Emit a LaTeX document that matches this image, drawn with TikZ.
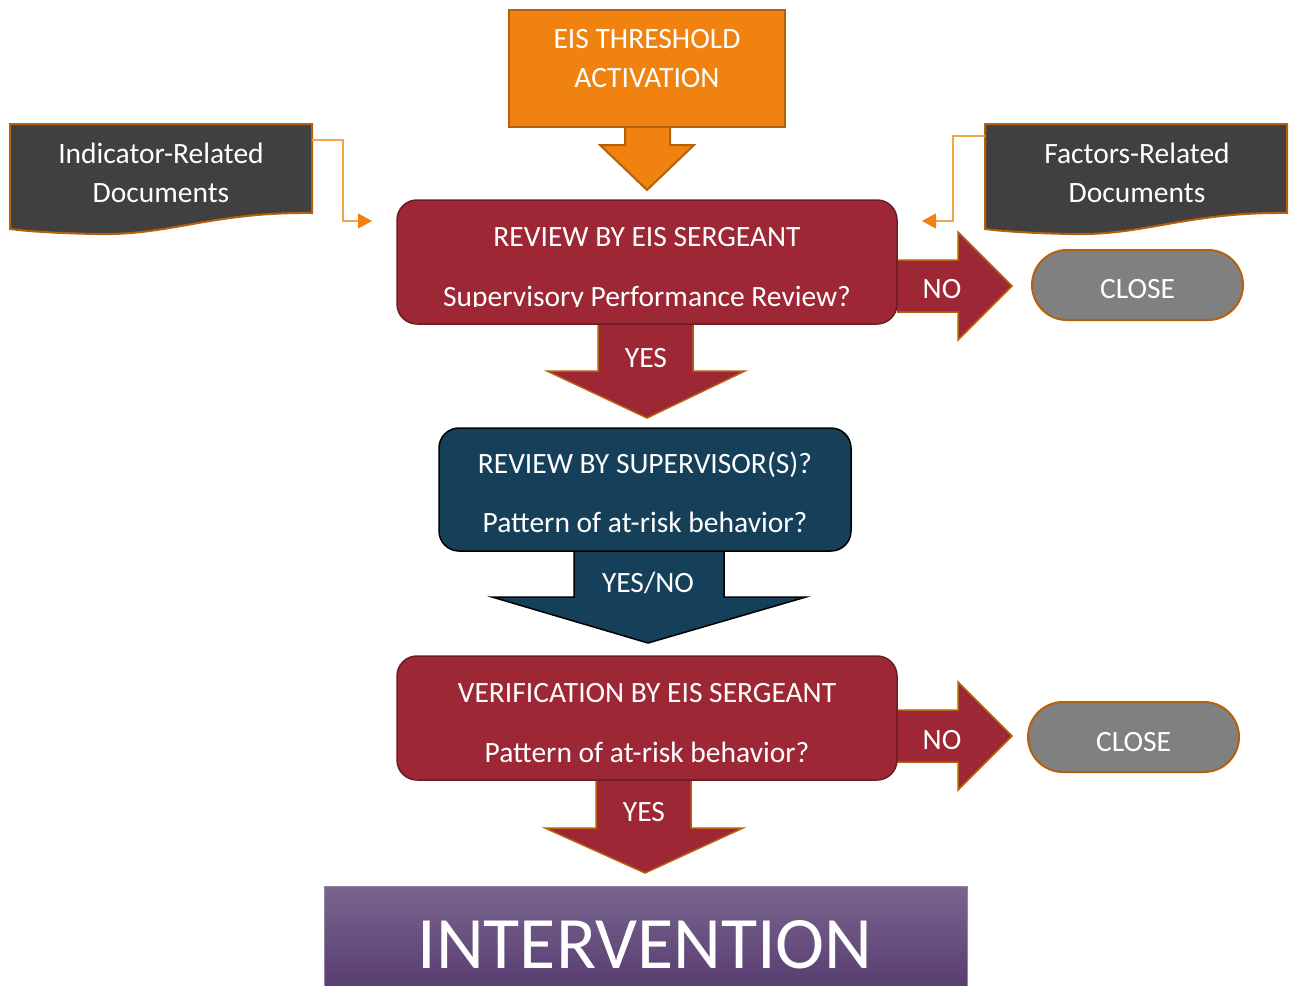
\documentclass[tikz,border=0pt]{standalone}
\usepackage{fontspec}
\setmainfont{Carlito}
\usetikzlibrary{arrows.meta}
\definecolor{org}{HTML}{F0820F}
\definecolor{orgdk}{HTML}{B5600C}
\definecolor{redb}{HTML}{9E2736}
\definecolor{reddk}{HTML}{6A1C26}
\definecolor{brn}{HTML}{B5600C}
\definecolor{blu}{HTML}{163F5A}
\definecolor{dkg}{HTML}{404040}
\definecolor{gry}{HTML}{808080}
\definecolor{lorg}{HTML}{F5A548}
\definecolor{purt}{HTML}{7A658F}
\definecolor{purb}{HTML}{553A6E}
\begin{document}
\begin{tikzpicture}[x=1pt,y=-1pt,
  txt/.style={text=white,font=\fontsize{29.5}{38}\selectfont,inner sep=0pt,anchor=base},
  redbox/.style={fill=redb,draw=reddk,line width=1.5pt,rounded corners=20pt,minimum width=500pt,minimum height=124pt,inner sep=0pt},
  bluebox/.style={fill=blu,draw=black,line width=1.5pt,rounded corners=20pt,minimum width=412pt,minimum height=123pt,inner sep=0pt},
  redarrow/.style={fill=redb,draw=brn,line width=1.5pt},
  bluearrow/.style={fill=blu,draw=black,line width=1.5pt},
  docshape/.style={fill=dkg,draw=brn,line width=2pt},
  closebox/.style={fill=gry,draw=brn,line width=2pt,rounded corners=35pt,minimum width=211pt,minimum height=70pt,inner sep=0pt},
  conn/.style={draw=lorg,line width=1.5pt,-{Triangle[length=14pt,width=15pt,color=org,fill=org]}}
]
\useasboundingbox (0,0) rectangle (1289,985);

% ---- top orange block arrow
\path[fill=org,draw=orgdk,line width=2pt] (625,127) -- (625,145) -- (600,145) -- (647,190) -- (694,145) -- (670,145) -- (670,127);
\node[fill=org,draw=orgdk,line width=2pt,minimum width=276pt,minimum height=117pt,inner sep=0pt] (eis) at (647,68.5) {};
\node[txt] (eisa) at (647,48) {EIS THRESHOLD};
\node[txt] (eisb) at (647,87) {ACTIVATION};

% ---- documents
\path[docshape] (10,124) -- (312,124) -- (312,213) .. controls (210,212) and (170,236) .. (95,234) .. controls (50,233) and (25,231) .. (10,229) -- cycle;
\node[txt] (ldoca) at (161,163) {Indicator-Related};
\node[txt] (ldocb) at (161,202) {Documents};
\path[docshape] (985,124) -- (1287,124) -- (1287,213) .. controls (1185,212) and (1145,236) .. (1070,234) .. controls (1025,233) and (1000,231) .. (985,229) -- cycle;
\node[txt] (rdoca) at (1137,163) {Factors-Related};
\node[txt] (rdocb) at (1137,202) {Documents};

% ---- NO arrows (behind boxes)
\path[redarrow] (897,260) -- (958,260) -- (958,232) -- (1012,286) -- (958,340) -- (958,312) -- (897,312);
\path[redarrow] (897,710) -- (958,710) -- (958,682) -- (1012,736) -- (958,790) -- (958,762) -- (897,762);
% ---- down arrows
\path[redarrow] (598,324) -- (598,371) -- (547,371) -- (647,418) -- (745,371) -- (693,371) -- (693,324);
\path[bluearrow] (574,551) -- (574,597) -- (492,597) -- (648,643) -- (806,597) -- (724,597) -- (724,551);
\path[redarrow] (596,780) -- (596,828) -- (545,828) -- (645,873) -- (743,828) -- (691,828) -- (691,780);

% ---- main boxes
\node[redbox] (rev1) at (647,262) {};
\node[txt] (rev1a) at (647,246) {REVIEW BY EIS SERGEANT};
\begin{scope}
\clip (397,200) rectangle (897,306);
\node[txt] (rev1b) at (647,306) {Supervisory Performance Review?};
\end{scope}
\node[bluebox] (sup) at (645,489.5) {};
\node[txt] (supa) at (645,473) {REVIEW BY SUPERVISOR(S)?};
\node[txt] (supb) at (645,532) {Pattern of at-risk behavior?};
\node[redbox] (ver) at (647,718) {};
\node[txt] (vera) at (647,702) {VERIFICATION BY EIS SERGEANT};
\node[txt] (verb) at (647,762) {Pattern of at-risk behavior?};

% ---- arrow labels
\node[txt] (yes1) at (646,367) {YES};
\node[txt] (yesno) at (648,592) {YES/NO};
\node[txt] (yes2) at (644,821) {YES};
\node[txt] (no1) at (942,298) {NO};
\node[txt] (no2) at (942,749) {NO};

% ---- close
\node[closebox] (close1) at (1137.5,285) {};
\node[txt] (close1t) at (1137.5,298) {CLOSE};
\node[closebox] (close2) at (1133.5,737) {};
\node[txt] (close2t) at (1133.5,751) {CLOSE};

% ---- intervention
\path[top color=purt,bottom color=purb,draw=purt!80!white,line width=1pt] (324,886) rectangle (967,995);
\node[text=white,font=\fontsize{74}{80}\selectfont,inner sep=0pt,anchor=base] (interv) at (645,968) {INTERVENTION};

% ---- connectors
\coordinate (lout) at (312,140);
\coordinate (ltip) at (372,221);
\coordinate (rout) at (985,136);
\coordinate (rtip) at (922,221);
\draw[conn] (lout) -| (343,221) -- (ltip);
\draw[conn] (rout) -| (953,221) -- (rtip);
\end{tikzpicture}
\end{document}
